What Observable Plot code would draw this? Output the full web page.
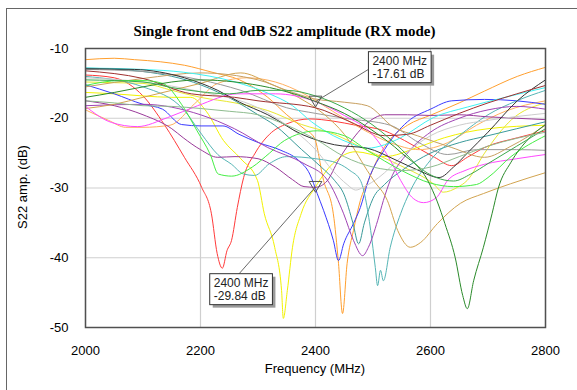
<!DOCTYPE html>
<html><head><meta charset="utf-8">
<script src="https://cdn.jsdelivr.net/npm/d3@7"></script>
<script src="https://cdn.jsdelivr.net/npm/@observablehq/plot@0.6"></script>
<style>
html,body{margin:0;padding:0;background:#fff;}
body{width:577px;height:390px;overflow:hidden;position:relative;font-family:"Liberation Sans",Arial,sans-serif;}
#border{position:absolute;left:6px;top:8px;width:640px;height:440px;border:1px solid #666;}
#chart{position:absolute;left:0;top:0;}
#title{position:absolute;left:0;top:23px;width:569px;text-align:center;font:bold 15px "Liberation Serif","Times New Roman",serif;color:#000;}
#ylabel{position:absolute;left:22px;top:187px;transform:translate(-50%,-50%) rotate(-90deg);font-size:13px;white-space:nowrap;color:#000;}
#xlabel{position:absolute;left:315px;top:368px;transform:translate(-50%,-50%);font-size:13px;white-space:nowrap;color:#000;}
</style></head>
<body>
<div id="border"></div>
<div id="chart"></div>
<div id="title">Single front end 0dB S22 amplitude (RX mode)</div>
<div id="ylabel">S22 amp. (dB)</div>
<div id="xlabel">Frequency (MHz)</div>
<script>
const xTicks = [2000, 2200, 2400, 2600, 2800];
const yTicks = [-10, -20, -30, -40, -50];

// [frequency MHz, S22 dB]
const red = [[2000,-13.8],[2050,-14.2],[2100,-16.8],[2137,-20.9],[2172,-25.6],[2202,-29.9],[2219,-33.7],[2229,-39.4],[2238,-41.5],[2246,-39],[2254,-37.5],[2264,-32.8],[2275,-28.5],[2295,-25],[2320,-22.3],[2350,-20.8],[2390,-20.1],[2430,-20.4],[2470,-21],[2520,-21.8],[2555,-23.2],[2607,-25.6],[2637,-26.8],[2664,-25.6],[2694,-24.2],[2751,-22.8],[2800,-21.8]];
const yellow1 = [[2000,-16.3],[2050,-16.5],[2100,-16.8],[2150,-17],[2183,-17],[2210,-19],[2240,-23.2],[2270,-25.8],[2299,-28.9],[2311,-33.7],[2329,-38.5],[2341,-44.7],[2344,-48.7],[2351,-44.7],[2360,-38.5],[2375,-33.7],[2400,-29.84],[2430,-26.5],[2470,-24.8],[2520,-25.5],[2577,-24.2],[2624,-22.8],[2700,-21.5],[2800,-21]];
const yellow2 = [[2000,-14.8],[2050,-14.9],[2100,-15],[2150,-16],[2200,-17],[2260,-17.8],[2317,-18.9],[2376,-20.9],[2433,-22.3],[2490,-24.6],[2548,-26.8],[2605,-29.4],[2622,-30.6],[2647,-29.9],[2664,-28.9],[2694,-25],[2741,-20.2],[2800,-17.8]];
const orange = [[2000,-11.6],[2050,-11.4],[2085,-11.6],[2130,-11.9],[2172,-12.4],[2220,-13.4],[2268,-14.5],[2317,-17],[2350,-19.5],[2380,-21.5],[2398,-22.8],[2414,-28.9],[2431,-33.7],[2440,-40.8],[2447,-48],[2455,-40.8],[2466,-36.1],[2478,-31.8],[2492,-28.9],[2510,-25.5],[2530,-23],[2560,-21],[2602,-19.5],[2650,-17.8],[2694,-16.1],[2751,-14],[2800,-12.7]];
const orange2 = [[2000,-18.8],[2040,-20.3],[2070,-21.3],[2100,-21.3],[2147,-21],[2190,-17.9],[2230,-15],[2280,-14.2],[2330,-14.8],[2380,-16.5],[2430,-19],[2480,-21.5],[2530,-23.5],[2580,-24.5],[2630,-23.5],[2680,-21],[2730,-19],[2800,-17.5]];
const blue = [[2000,-15.2],[2050,-16.5],[2100,-18],[2134,-18.7],[2167,-20.9],[2201,-21.1],[2239,-21.1],[2267,-22.3],[2301,-23.5],[2340,-24.6],[2370,-26],[2390,-28],[2403,-30.8],[2414,-33.2],[2431,-37.5],[2440,-40.4],[2449,-38],[2466,-35.1],[2478,-32.8],[2492,-28.9],[2520,-24.5],[2560,-20.5],[2600,-18.7],[2637,-17.5],[2694,-17.3],[2750,-17.5],[2800,-18]];
const teal1 = [[2000,-12.8],[2100,-13.3],[2200,-15.2],[2260,-17.5],[2300,-19.5],[2329,-21],[2376,-24.5],[2410,-27],[2433,-28.9],[2450,-31],[2465,-35],[2475,-38],[2485,-35],[2500,-31.5],[2520,-29.5],[2550,-27.5],[2600,-25],[2650,-23.5],[2700,-22.5],[2750,-21.5],[2800,-20.5]];
const teal2 = [[2000,-14],[2100,-15.5],[2172,-18.9],[2202,-22.3],[2230,-25.2],[2254,-26.6],[2275,-28],[2294,-28.2],[2320,-26.5],[2350,-25.5],[2400,-25.8],[2440,-26.5],[2460,-27.5],[2478,-28.9],[2496,-36.1],[2504,-41.4],[2508,-44],[2513,-41.8],[2518,-43.3],[2530,-38.5],[2548,-33.7],[2565,-30.4],[2600,-26],[2650,-22.5],[2700,-19.5],[2750,-17.5],[2800,-16]];
const purple1 = [[2000,-18.2],[2100,-18],[2200,-19.5],[2259,-21.5],[2317,-24.2],[2380,-26.5],[2421,-28.9],[2449,-33.7],[2466,-37.5],[2482,-39.7],[2492,-38.5],[2508,-34.7],[2518,-31.8],[2530,-28.9],[2560,-25],[2600,-22],[2650,-20],[2700,-18.8],[2750,-18.3],[2800,-18.7]];
const purple2 = [[2000,-17.5],[2050,-18.2],[2100,-19.5],[2150,-21.5],[2170,-22.8],[2200,-24.5],[2230,-25.6],[2260,-25.5],[2300,-25.8],[2330,-27],[2360,-28.8],[2380,-29.8],[2400,-29.9],[2420,-29],[2440,-26],[2460,-23.5],[2496,-20.3],[2520,-19.5],[2560,-19.5],[2600,-19.6],[2650,-19.5],[2700,-19.8],[2750,-20],[2800,-20.2]];
const lightgray = [[2000,-14.2],[2100,-14.8],[2200,-16.2],[2300,-18.5],[2350,-21],[2400,-24.5],[2430,-27.5],[2455,-29.5],[2470,-30.3],[2485,-29.8],[2510,-28.5],[2550,-25.5],[2600,-22.5],[2650,-21],[2700,-20.3],[2800,-19.3]];
const gray = [[2000,-13],[2100,-13.3],[2200,-14.5],[2270,-16],[2350,-18.5],[2400,-19.3],[2450,-20],[2530,-21],[2580,-23.5],[2630,-25.2],[2680,-24.5],[2750,-24.5],[2800,-24.6]];
const tan1 = [[2000,-18.6],[2050,-18],[2100,-17],[2150,-16],[2200,-15],[2270,-13.5],[2320,-15],[2370,-17],[2416,-19.5],[2450,-22.3],[2490,-27.5],[2501,-28.9],[2525,-31.8],[2543,-36.1],[2565,-38.5],[2583,-37.8],[2612,-35.1],[2652,-32.2],[2692,-30.8],[2739,-29.4],[2800,-27.8]];
const tan2 = [[2000,-15.5],[2100,-14.3],[2200,-13.5],[2300,-14.5],[2350,-16],[2397,-17.2],[2450,-17.7],[2490,-18.2],[2536,-21.3],[2577,-22.5],[2637,-24.2],[2694,-25.6],[2740,-24],[2800,-21]];
const magenta = [[2000,-18.3],[2045,-20.6],[2090,-21.2],[2143,-19.9],[2195,-18.2],[2265,-16.5],[2330,-16.5],[2400,-17.61],[2450,-19.6],[2501,-22.5],[2530,-26],[2548,-28.9],[2570,-31.5],[2588,-32.1],[2610,-31.4],[2630,-28.9],[2660,-27.5],[2694,-26.6],[2750,-25.8],[2800,-25.2]];
const cyan = [[2000,-12.8],[2100,-13],[2170,-13.4],[2260,-14.8],[2317,-16.4],[2360,-18.2],[2393,-20.5],[2431,-22.5],[2461,-23.6],[2490,-24.3],[2520,-23.8],[2548,-22.8],[2605,-19.9],[2664,-18.4],[2730,-17],[2800,-15.6]];
const black = [[2000,-12.9],[2085,-13],[2172,-14.2],[2230,-16],[2268,-17.7],[2317,-19.5],[2376,-22.3],[2433,-23.8],[2490,-24.3],[2540,-26],[2580,-27.5],[2615,-28.5],[2640,-27],[2664,-25],[2700,-22],[2751,-17.5],[2800,-14.5]];
const maroon = [[2000,-13.2],[2100,-14.3],[2184,-16.5],[2259,-17],[2300,-17.5],[2400,-18.5],[2460,-20.5],[2520,-22.5],[2560,-22.3],[2600,-21],[2650,-19.3],[2700,-17.8],[2750,-16.5],[2800,-15.3]];
const lime = [[2000,-15.3],[2060,-14.6],[2100,-14.6],[2134,-15],[2167,-18],[2194,-21.8],[2217,-25.2],[2231,-28],[2254,-28.3],[2290,-27],[2320,-25],[2346,-23.2],[2403,-21.8],[2450,-22.5],[2490,-24.6],[2550,-27.5],[2600,-29.3],[2640,-29.8],[2680,-29.5],[2700,-28.5],[2740,-25.5],[2800,-22.5]];
const forest = [[2000,-17],[2050,-16.3],[2100,-15.5],[2150,-14.8],[2200,-14.5],[2260,-14.8],[2320,-15.6],[2370,-16.7],[2400,-17.6],[2450,-19.3],[2500,-21.8],[2550,-25],[2595,-28.9],[2612,-32],[2625,-35.1],[2643,-40],[2656,-45.4],[2664,-47.3],[2675,-43.3],[2692,-38.5],[2707,-33.7],[2718,-30],[2740,-26.3],[2770,-23],[2800,-20.9]];
const seagreen = [[2000,-14.5],[2100,-14.8],[2150,-15.6],[2200,-16.2],[2250,-16.5],[2300,-16],[2350,-16],[2400,-16.8],[2450,-18.5],[2500,-21],[2550,-24.5],[2580,-27],[2610,-28.5],[2640,-29],[2670,-28],[2700,-26.5],[2750,-24],[2800,-21.5]];
const grayGreen = [[2000,-17.5],[2050,-17.8],[2100,-18.2],[2150,-18.3],[2200,-18.6],[2250,-19],[2300,-19.5],[2350,-21],[2400,-23],[2450,-25.5],[2500,-27],[2550,-27.5],[2600,-27],[2650,-25.5],[2700,-24],[2800,-22]];

const seriesData = [red, yellow1, yellow2, orange, orange2, blue, teal1, teal2, purple1, purple2, lightgray, gray, tan1, tan2, magenta, cyan, black, maroon, lime, forest, seagreen, grayGreen];
const seriesColors = ["#ff3a3a","#f2f200","#e8e830","#ff9f2e","#ffb060","#3a3aff","#3a9a9a","#55b5b5","#a044b4","#9a3a9a","#cccccc","#9a9a9a","#d2a450","#c8a060","#ff48ff","#3ef2f2","#333333","#a03030","#44ee44","#2a8a2a","#3caa4c","#8fbc8f"];

// Markers and their labels
const markerFreq = [2400, 2400];
const markerDb = [-17.61, -29.84];
const labelText = ["2400 MHz\n-17.61 dB", "2400 MHz\n-29.84 dB"];
const labelFreq = [2499, 2223];
const labelDb = [-11.0, -42.83];
const linkFreq = [2492, 2266];
const linkDb = [-13.0, -42.4];

const downTriangle = {draw(ctx, size){ const s = Math.sqrt(size) * 0.9; ctx.moveTo(-s, -s*0.85); ctx.lineTo(s, -s*0.85); ctx.lineTo(0, s*0.85); ctx.closePath(); }};

const lineMarks = seriesData.map((d, i) => Plot.line(d, {x: p => p[0], y: p => p[1], stroke: seriesColors[i], strokeWidth: 1, curve: "monotone-x", clip: true}));
const markers = markerFreq.map((f, i) => ({f, v: markerDb[i], t: labelText[i], lf: labelFreq[i], lv: labelDb[i], kf: linkFreq[i], kv: linkDb[i]}));

const chart = Plot.plot({
  width: 577, height: 390,
  marginLeft: 85, marginRight: 32, marginTop: 48, marginBottom: 63,
  style: {fontFamily: "Liberation Sans, Arial, sans-serif", fontSize: "13px", background: "transparent", color: "#000", overflow: "visible"},
  x: {domain: [2000, 2800], ticks: xTicks, tickSize: 0, tickPadding: 18, label: null, tickFormat: d => String(d)},
  y: {domain: [-50, -10], ticks: yTicks, tickSize: 0, tickPadding: 17, label: null, tickFormat: d => String(d)},
  marks: [
    Plot.ruleX(xTicks, {stroke: "#cfcfcf", strokeWidth: 1.2}),
    Plot.ruleY(yTicks, {stroke: "#cfcfcf", strokeWidth: 1.2}),
    ...lineMarks,
    Plot.frame({stroke: "#505050", strokeWidth: 1.5}),
    Plot.link(markers, {x1: "kf", y1: "kv", x2: "f", y2: "v", stroke: "#444", strokeWidth: 0.8}),
    Plot.dot(markers, {x: "f", y: "v", symbol: downTriangle, r: 4, stroke: "#555", fill: "none", strokeWidth: 1}),
    Plot.text(markers, {x: "lf", y: "lv", text: "t", textAnchor: "start", lineAnchor: "top", fontSize: 12, lineHeight: 1.08, fill: "#222"})
  ]
});
document.getElementById("chart").appendChild(chart);

// draw boxes with shadows behind the label texts
const svg = d3.select(chart.tagName === "svg" ? chart : chart.querySelector("svg"));
svg.selectAll('g[aria-label="text"] text').each(function(){
  const b = this.getBBox();
  const g = this.parentNode;
  const x = b.x - 4, y = b.y - 2, w = b.width + 8, h = b.height + 4;
  const ns = "http://www.w3.org/2000/svg";
  const sh = document.createElementNS(ns, "rect");
  sh.setAttribute("x", x + 3); sh.setAttribute("y", y + 3); sh.setAttribute("width", w); sh.setAttribute("height", h);
  sh.setAttribute("fill", "#9a9a9a");
  const bx = document.createElementNS(ns, "rect");
  bx.setAttribute("x", x); bx.setAttribute("y", y); bx.setAttribute("width", w); bx.setAttribute("height", h);
  bx.setAttribute("fill", "#fff"); bx.setAttribute("stroke", "#333"); bx.setAttribute("stroke-width", "1");
  const tr = this.getAttribute("transform");
  if (tr) { sh.setAttribute("transform", tr); bx.setAttribute("transform", tr); }
  g.insertBefore(sh, this);
  g.insertBefore(bx, this);
});
</script>
</body></html>
